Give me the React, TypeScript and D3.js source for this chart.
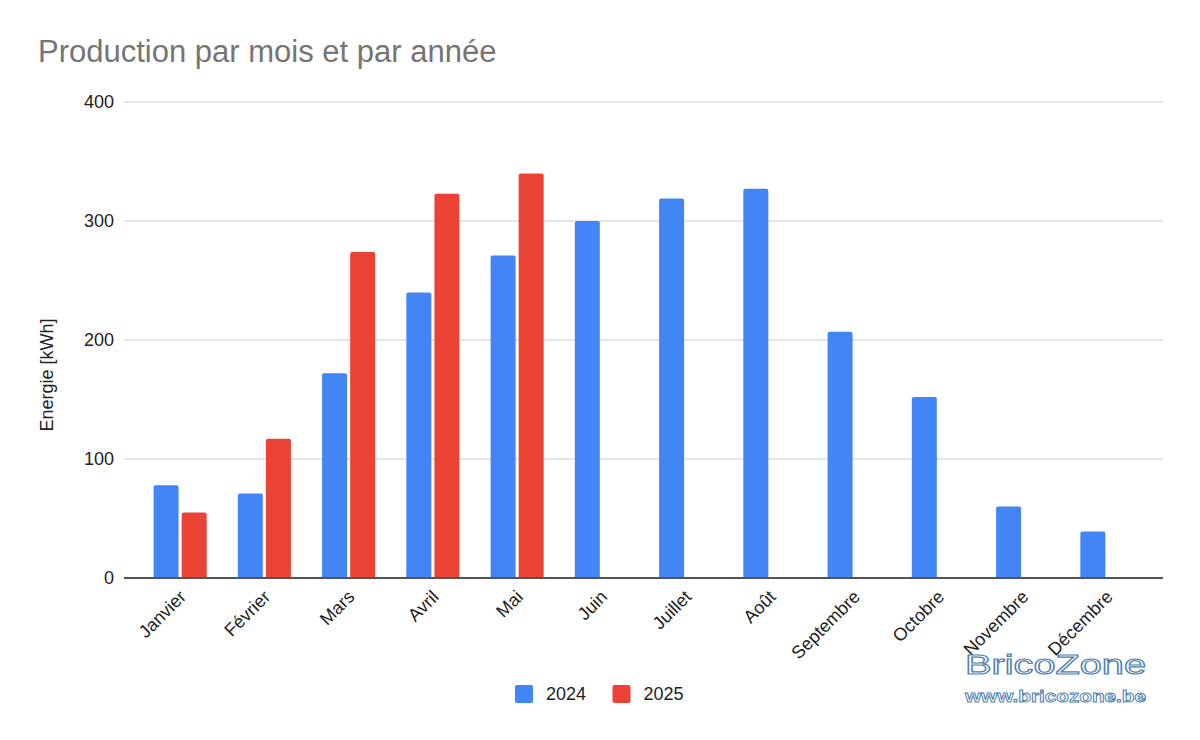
import React, { useEffect } from 'react'
import * as d3 from 'd3'

// Monthly production, kWh
const months = [
    'Janvier',
    'Février',
    'Mars',
    'Avril',
    'Mai',
    'Juin',
    'Juillet',
    'Août',
    'Septembre',
    'Octobre',
    'Novembre',
    'Décembre',
]
const years = ['2024', '2025']
const values2024 = [78, 71, 172, 240, 271, 300, 319, 327, 207, 152, 60, 39]
const values2025 = [55, 117, 274, 323, 340, null, null, null, null, null, null, null]
const yTicks = [0, 100, 200, 300, 400]

const colors = { '2024': '#4285F4', '2025': '#EA4335' }
const font = 'Arial, "Liberation Sans", Helvetica, sans-serif'

// bar with only the top corners rounded
const topRoundedBar = (x: number, y: number, w: number, h: number, r: number) => {
    const rr = Math.min(r, h / 2, w / 2)
    return `M${x},${y + h}V${y + rr}Q${x},${y} ${x + rr},${y}H${x + w - rr}Q${x + w},${y} ${x + w},${y + rr}V${y + h}Z`
}

const App: React.FC = () => {
    useEffect(() => {
        document.body.style.margin = '0'
    }, [])

    const width = 1200
    const height = 740
    const gridLeft = 124
    const gridRight = 1163

    const y = d3.scaleLinear().domain([0, 400]).range([578, 102])

    const x0 = d3
        .scaleBand()
        .domain(months)
        .range([138, 1149])
        .paddingInner(0.37)
        .paddingOuter(0.185)

    const x1 = d3
        .scaleBand()
        .domain(years)
        .range([0, x0.bandwidth()])
        .paddingInner(0.11)

    const series = years.map((yr, i) => ({
        key: yr,
        values: i === 0 ? values2024 : values2025,
    }))

    return (
        <svg width={width} height={height} style={{ display: 'block', background: '#fff' }}>
            {/* title */}
            <text x={38} y={62} fontFamily={font} fontSize={31} fill="#757575">
                Production par mois et par année
            </text>

            {/* gridlines + y labels */}
            {yTicks.map((t) => (
                <g key={t}>
                    {t !== 0 && (
                        <line
                            x1={gridLeft}
                            x2={gridRight}
                            y1={y(t)}
                            y2={y(t)}
                            stroke="#cccccc"
                            strokeWidth={1}
                        />
                    )}
                    <text
                        x={114}
                        y={y(t)}
                        dy="0.36em"
                        textAnchor="end"
                        fontFamily={font}
                        fontSize={18}
                        fill="#222"
                    >
                        {t}
                    </text>
                </g>
            ))}

            {/* axis title */}
            <text
                transform={`translate(53,${y(200) + 35}) rotate(-90)`}
                textAnchor="middle"
                fontFamily={font}
                fontSize={18}
                fill="#222"
            >
                Energie [kWh]
            </text>

            {/* bars */}
            {series.map((s) =>
                s.values.map((v, i) => {
                    if (v == null) return null
                    const bx = (x0(months[i]) ?? 0) + (x1(s.key) ?? 0)
                    const by = y(v)
                    return (
                        <path
                            key={s.key + i}
                            d={topRoundedBar(bx, by, x1.bandwidth(), y(0) - by, 2)}
                            fill={colors[s.key]}
                        />
                    )
                })
            )}

            {/* baseline */}
            <line
                x1={gridLeft}
                x2={gridRight}
                y1={y(0)}
                y2={y(0)}
                stroke="#555"
                strokeWidth={2}
            />

            {/* month labels */}
            {months.map((m) => {
                const cx = (x0(m) ?? 0) + x0.bandwidth() / 2 + 7
                return (
                    <text
                        key={m}
                        transform={`translate(${cx},${598}) rotate(-45)`}
                        textAnchor="end"
                        fontFamily={font}
                        fontSize={18}
                        fill="#222"
                    >
                        {m}
                    </text>
                )
            })}

            {/* legend */}
            {years.map((yr, i) => {
                const lx = 515 + i * 97.5
                return (
                    <g key={yr}>
                        <rect x={lx} y={685} width={18} height={18} rx={2} fill={colors[yr]} />
                        <text
                            x={lx + 31}
                            y={694}
                            dy="0.36em"
                            fontFamily={font}
                            fontSize={18}
                            fill="#222"
                        >
                            {yr}
                        </text>
                    </g>
                )
            })}

            {/* watermark */}
            <g fill="#fff" stroke="#4f7fae" strokeWidth={1.1} fontFamily={font}>
                <text
                    x={965}
                    y={674}
                    fontSize={27}
                    textLength={181}
                    lengthAdjust="spacingAndGlyphs"
                >
                    BricoZone
                </text>
                <text
                    x={965}
                    y={702}
                    fontSize={17}
                    fontWeight="bold"
                    textLength={181}
                    lengthAdjust="spacingAndGlyphs"
                    strokeWidth={0.9}
                >
                    www.bricozone.be
                </text>
            </g>
        </svg>
    )
}

export default App
